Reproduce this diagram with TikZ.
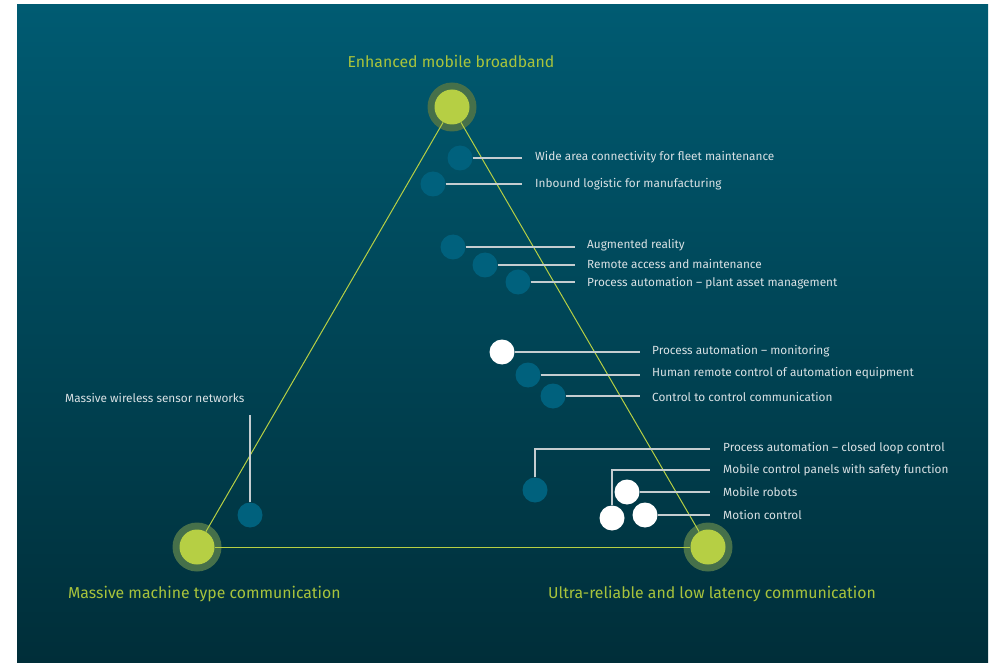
\documentclass[tikz,border=0pt]{standalone}
\usepackage{fontspec}
\setmainfont{Fira Sans}
\definecolor{bgtop}{HTML}{005B72}
\definecolor{bgbot}{HTML}{002E39}
\definecolor{dotblue}{HTML}{00617D}
\definecolor{limec}{HTML}{B6CF44}
\definecolor{ringc}{HTML}{46704A}
\definecolor{linegrey}{HTML}{C5CDD0}
\definecolor{textlime}{HTML}{A8C33C}
\definecolor{textwhite}{HTML}{D9E1E4}
\tikzset{
  dotb/.style={circle,fill=dotblue,minimum size=25pt,inner sep=0pt},
  dotw/.style={circle,fill=white,minimum size=25pt,inner sep=0pt},
  ringnode/.style={circle,fill=ringc,minimum size=49pt,inner sep=0pt},
  corenode/.style={circle,fill=limec,minimum size=35pt,inner sep=0pt},
  tri/.style={draw=limec,line width=1pt},
  lead/.style={draw=linegrey,line width=1.3pt},
  lbl/.style={anchor=west,inner sep=0pt,text=textwhite,font=\fontsize{11.8}{13}\selectfont},
  biglbl/.style={inner sep=0pt,text=textlime,font=\fontsize{15.8}{18}\selectfont}
}
\begin{document}
\begin{tikzpicture}[x=1pt,y=-1pt]
\useasboundingbox (0,0) rectangle (991,663);
\fill[white] (0,0) rectangle (991,663);
\shade[top color=bgtop,bottom color=bgbot] (17,5) rectangle (988,663);

% vertices
\node[ringnode] (rA) at (452,107) {};
\node[ringnode] (rB) at (197,547) {};
\node[ringnode] (rC) at (708,547) {};
\node[corenode] (A) at (452,107) {};
\node[corenode] (B) at (197,547) {};
\node[corenode] (C) at (708,547) {};
\draw[tri] (A) -- (B);
\draw[tri] (A) -- (C);
\draw[tri] (B) -- (C);

% big labels
\node[biglbl] (tA) at (451,61) {Enhanced mobile broadband};
\node[biglbl,anchor=west] (tB) at (68,594) {Massive machine type communication};
\node[biglbl,anchor=west] (tC) at (548,594) {Ultra-reliable and low latency communication};

% dots
\node[dotb] (d1) at (460,158) {};
\node[dotb] (d2) at (433,184) {};
\node[dotb] (d3) at (453,247) {};
\node[dotb] (d4) at (485,265) {};
\node[dotb] (d5) at (518,282) {};
\node[dotw] (d6) at (502,352) {};
\node[dotb] (d7) at (528,375) {};
\node[dotb] (d8) at (553,396) {};
\node[dotb] (d9) at (535,490) {};
\node[dotw] (d11) at (627,492) {};
\node[dotw] (d12) at (612,518) {};
\node[dotw] (d13) at (645,515) {};
\node[dotb] (dm) at (250,515) {};

% end points of leader lines
\coordinate (e1) at (522,158);
\coordinate (e2) at (522,184);
\coordinate (e3) at (575,246);
\coordinate (e4) at (575,264);
\coordinate (e5) at (575,283);
\coordinate (e6) at (640,352);
\coordinate (e7) at (640,374);
\coordinate (e8) at (640,397);
\coordinate (e9) at (710,449);
\coordinate (e10) at (710,470);
\coordinate (e11) at (710,492);
\coordinate (e13) at (710,515);
\coordinate (em) at (250,415);

\draw[lead] (d1) -- (d1 -| e1);
\draw[lead] (d2) -- (d2 -| e2);
\draw[lead] (d3) -- (d3 -| e3);
\draw[lead] (d4) -- (d4 -| e4);
\draw[lead] (d5) -- (d5 -| e5);
\draw[lead] (d6) -- (d6 -| e6);
\draw[lead] (d7) -- (d7 -| e7);
\draw[lead] (d8) -- (d8 -| e8);
\draw[lead] (d9) |- (e9);
\draw[lead] (d12) |- (e10);
\draw[lead] (d11) -- (d11 -| e11);
\draw[lead] (d13) -- (d13 -| e13);
\draw[lead] (dm) -- (dm |- em);

% labels
\node[lbl] (l1) at (535,157) {Wide area connectivity for fleet maintenance};
\node[lbl] (l2) at (535,184) {Inbound logistic for manufacturing};
\node[lbl] (l3) at (587,245) {Augmented reality};
\node[lbl] (l4) at (587,264) {Remote access and maintenance};
\node[lbl] (l5) at (587,283) {Process automation – plant asset management};
\node[lbl] (l6) at (652,351) {Process automation – monitoring};
\node[lbl] (l7) at (652,373) {Human remote control of automation equipment};
\node[lbl] (l8) at (652,397) {Control to control communication};
\node[lbl] (l9) at (723,448) {Process automation – closed loop control};
\node[lbl] (l10) at (723,470) {Mobile control panels with safety function};
\node[lbl] (l11) at (723,492) {Mobile robots};
\node[lbl] (l13) at (723,515) {Motion control};
\node[lbl] (lm) at (65,398) {Massive wireless sensor networks};
\end{tikzpicture}
\end{document}
